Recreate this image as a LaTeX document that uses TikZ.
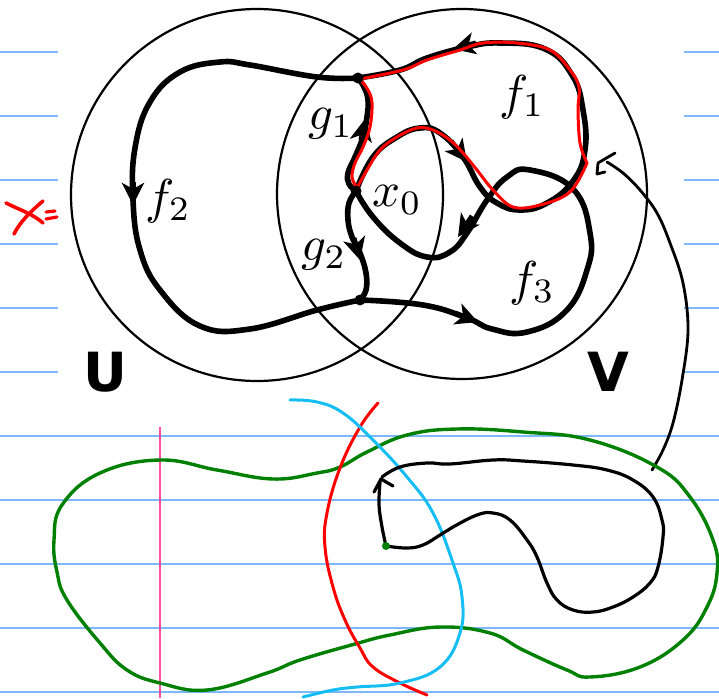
\documentclass[tikz,border=0pt]{standalone}
\usepackage{fontspec}
\newfontfamily\labfont{DejaVu Sans}
\usetikzlibrary{arrows.meta}
\definecolor{nbblue}{RGB}{125,185,250}
\definecolor{margin}{RGB}{255,80,165}
\definecolor{penblue}{RGB}{20,190,245}
\definecolor{pengreen}{RGB}{0,128,0}
\begin{document}
\begin{tikzpicture}[x=1pt,y=-1pt,
  nbline/.style={nbblue, line width=2.6pt},
  ring/.style={line width=2.2pt},
  curve/.style={line width=5.6pt, line cap=round, line join=round},
  arr/.style={line width=5pt, -{Stealth[length=22pt,width=22pt,inset=6pt]}},
  redpen/.style={red, line width=3pt, line cap=round, line join=round},
  pen/.style={line width=3.2pt, line cap=round, line join=round},
  dot/.style={circle, fill, inner sep=0pt, minimum size=11pt},
  lab/.style={scale=4.9, inner sep=0pt},
  big/.style={font=\labfont\bfseries\fontsize{54}{60}\selectfont, inner sep=0pt}]
\useasboundingbox (0,0) rectangle (719,698);
% notebook paper
\foreach \y in {52,116,180,244,308,372} {
  \draw[nbline] (0,\y) -- (58,\y);
  \draw[nbline] (684,\y) -- (719,\y);
}
\foreach \y in {436,500,564,628,692} \draw[nbline] (0,\y) -- (719,\y);
\draw[margin, line width=2.4pt] (160,427) -- (160,698);
% circles U and V
\draw[ring] (257,195) circle[radius=186pt];
\draw[ring] (462,194) circle[radius=185pt];
% key points
\coordinate (A) at (358,78);
\coordinate (X0) at (356,191);
\coordinate (B) at (360,300);
% thick curves
\draw[curve] plot[smooth,tension=0.7] coordinates {(A) (317,77) (250,65) (220,62) (180,72) (150,102) (135,148) (133,200) (140,250) (160,290) (200,326) (250,329) (317,310) (B)};
\draw[curve] plot[smooth,tension=0.7] coordinates {(X0) (349,184) (348,173) (355,157) (363,137) (367,117) (368,100) (364,87) (A)};
\draw[curve] plot[smooth,tension=0.7] coordinates {(X0) (349,203) (348,220) (352,237) (360,253) (366,273) (366,290) (B)};
\draw[curve] plot[smooth,tension=0.75] coordinates {(B) (423,305) (467,318) (492,329) (527,332) (566,311) (587,270) (590,233) (573,189) (530,170) (507,177) (487,200) (467,233) (450,252) (427,257) (400,243) (373,217) (X0)};
\draw[curve] plot[smooth,tension=0.75] coordinates {(A) (400,70) (427,58) (467,47) (500,43) (545,49) (572,75) (583,110) (585,150) (573,181) (547,203) (520,210) (497,203) (480,187) (463,157) (440,133) (420,128) (397,137) (373,157) (X0)};
% arrowheads on thick curves
\coordinate (a1s) at (133,182); \coordinate (a1) at (133,205);
\coordinate (a2s) at (361,140); \coordinate (a2) at (365,119);
\coordinate (a3s) at (354,238); \coordinate (a3) at (360,260);
\coordinate (a4s) at (476,43); \coordinate (a4) at (453,49);
\coordinate (a5s) at (451,141); \coordinate (a5) at (467,162);
\coordinate (a6s) at (472,216); \coordinate (a6) at (458,237);
\coordinate (a7s) at (455,313); \coordinate (a7) at (478,322);
\draw[arr] (a1s) -- (a1);
\draw[arr] (a2s) -- (a2);
\draw[arr] (a3s) -- (a3);
\draw[arr] (a4s) -- (a4);
\draw[arr] (a5s) -- (a5);
\draw[arr] (a6s) -- (a6);
\draw[arr] (a7s) -- (a7);
% red overlay on f1 loop
\draw[redpen] plot[smooth,tension=0.6] coordinates {(357,188) (352,177) (355,163) (363,147) (370,127) (372,103) (368,90) (360,79)};
\draw[redpen] plot[smooth,tension=0.6] coordinates {(360,79) (403,70) (427,60) (460,50) (483,43) (517,43) (550,50) (570,70) (579,87) (578,110) (580,143) (587,163)};
\draw[redpen] plot[smooth,tension=0.6] coordinates {(587,163) (570,192) (540,205) (513,207) (493,190) (477,170) (463,153) (450,140) (433,130) (417,128) (397,137) (380,150) (367,170) (357,188)};
% junction dots
\node[dot] (dA) at (A) {};
\node[dot] (dX0) at (X0) {};
\node[dot] (dB) at (B) {};
% labels
\node[lab] (lf1) at (522,97) {$f_1$};
\node[lab] (lf2) at (168,201) {$f_2$};
\node[lab] (lf3) at (532,283) {$f_3$};
\node[lab] (lg1) at (331,124) {$g_1$};
\node[lab] (lg2) at (324,255) {$g_2$};
\node[lab] (lx0) at (397,200) {$x_0$};
\node[big] (lU) at (105,372) {U};
\node[big] (lV) at (608,372) {V};
% red X=
\draw[redpen, line width=3.6pt] (6,203) .. controls (20,210) and (33,214) .. (43,223);
\draw[redpen, line width=3.6pt] (43,201) .. controls (30,212) and (20,222) .. (14,234);
\draw[redpen, line width=3.2pt] (46,212) -- (55,211);
\draw[redpen, line width=3.2pt] (46,219) -- (57,217);
% hand-drawn arrow upper right
\draw[pen, line width=2.8pt] plot[smooth,tension=0.6] coordinates {(652,470) (663,450) (673,423) (682,380) (688,330) (683,283) (670,243) (657,213) (640,190) (623,173) (607,162)};
\draw[pen, line width=2.8pt] (615,153) -- (598,163) -- (597,174) -- (605,172);
% lower drawing
\draw[pengreen, line width=3.4pt] plot[smooth cycle,tension=0.7] coordinates {(54,540) (62,505) (100,473) (160,460) (217,470) (273,479) (317,473) (340,467) (367,452) (407,435) (457,429) (523,432) (590,440) (657,467) (690,497) (713,540) (717,573) (707,607) (683,640) (640,667) (590,677) (567,670) (523,650) (490,633) (440,627) (390,635) (355,644) (300,660) (267,673) (207,690) (160,683) (127,670) (100,643) (67,600) (57,572)};
\draw[redpen] plot[smooth,tension=0.7] coordinates {(378,403) (360,427) (340,468) (327,513) (325,547) (333,587) (345,620) (360,648) (373,667) (400,683) (427,695)};
\draw[penblue, line width=3pt, line cap=round] plot[smooth,tension=0.7] coordinates {(290,400) (317,402) (343,413) (373,440) (407,477) (433,513) (453,563) (462,597) (460,633) (440,667) (400,683) (357,687) (333,690) (303,697)};
\coordinate (D) at (386,546);
\draw[pen] plot[smooth,tension=0.6] coordinates {(D) (382,527) (379,505) (380,482)};
\draw[pen] (374,492) -- (381,479) -- (393,486);
\draw[pen] plot[smooth,tension=0.7] coordinates {(382,477) (400,467) (427,463) (450,464) (493,460) (523,461) (573,465) (607,470) (633,480) (653,497) (662,520) (663,537) (658,567) (650,583) (633,597) (613,607) (593,612) (573,610) (557,600) (547,583) (537,557) (527,540) (510,520) (493,513) (477,515) (453,527) (440,535) (423,545) (407,548) (D)};
\node[circle, fill=pengreen, inner sep=0pt, minimum size=8pt] (dD) at (D) {};
\end{tikzpicture}
\end{document}
